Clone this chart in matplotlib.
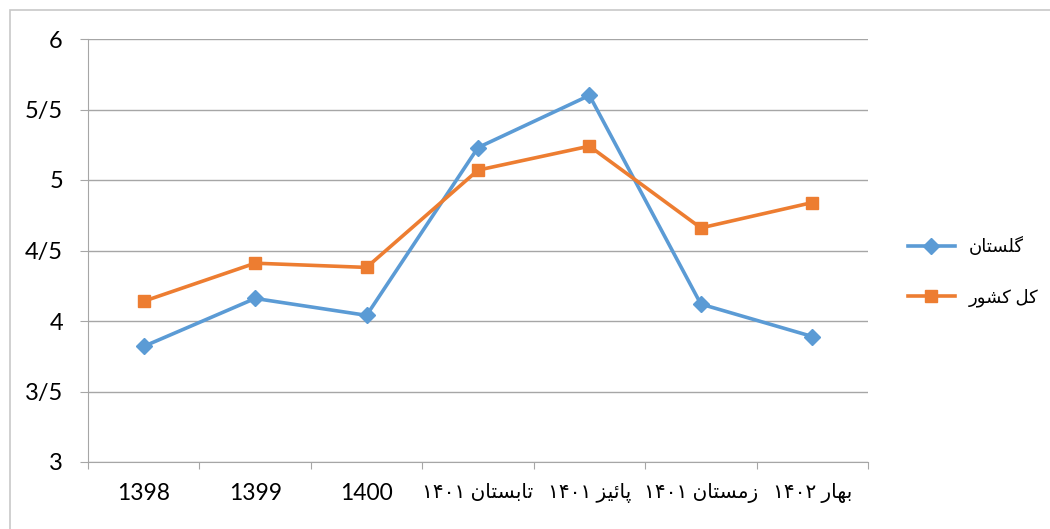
import numpy as np
import matplotlib
matplotlib.use("Agg")
import matplotlib.pyplot as plt
from matplotlib.patches import Rectangle

plt.rcParams['font.family'] = ['Lato', 'DejaVu Sans']

# data
categories = ['1398', '1399', '1400', 'تابستان ۱۴۰۱', 'پائیز ۱۴۰۱', 'زمستان ۱۴۰۱', 'بهار ۱۴۰۲']
golestan = [3.82, 4.16, 4.04, 5.23, 5.60, 4.12, 3.89]
kol_keshvar = [4.14, 4.41, 4.38, 5.07, 5.24, 4.66, 4.84]
series_names = ['گلستان', 'کل کشور']
ytick_values = [3, 3.5, 4, 4.5, 5, 5.5, 6]
ytick_labels = ['3', '3/5', '4', '4/5', '5', '5/5', '6']

# matplotlib does no arabic shaping, so pick presentation forms by hand
# (isolated, final, initial, medial)
forms = {
    'ا': ('\uFE8D', '\uFE8E', None, None),
    'ب': ('\uFE8F', '\uFE90', '\uFE91', '\uFE92'),
    'ت': ('\uFE95', '\uFE96', '\uFE97', '\uFE98'),
    'پ': ('\uFB56', '\uFB57', '\uFB58', '\uFB59'),
    'ئ': ('\uFE89', '\uFE8A', '\uFE8B', '\uFE8C'),
    'ی': ('\uFBFC', '\uFBFD', '\uFBFE', '\uFBFF'),
    'ز': ('\uFEAF', '\uFEB0', None, None),
    'م': ('\uFEE1', '\uFEE2', '\uFEE3', '\uFEE4'),
    'س': ('\uFEB1', '\uFEB2', '\uFEB3', '\uFEB4'),
    'ن': ('\uFEE5', '\uFEE6', '\uFEE7', '\uFEE8'),
    'ه': ('\uFEE9', '\uFEEA', '\uFEEB', '\uFEEC'),
    'ر': ('\uFEAD', '\uFEAE', None, None),
    'گ': ('\uFB92', '\uFB93', '\uFB94', '\uFB95'),
    'ل': ('\uFEDD', '\uFEDE', '\uFEDF', '\uFEE0'),
    'ک': ('\uFB8E', '\uFB8F', '\uFB90', '\uFB91'),
    'ش': ('\uFEB5', '\uFEB6', '\uFEB7', '\uFEB8'),
    'و': ('\uFEED', '\uFEEE', None, None),
}


def dual(c):
    return c in forms and forms[c][2] is not None


def shape_word(word):
    out = ''
    for i, c in enumerate(word):
        if c not in forms:
            out += c
            continue
        prev = word[i - 1] if i > 0 else ''
        nxt = word[i + 1] if i < len(word) - 1 else ''
        jp = dual(prev)
        jn = dual(c) and nxt in forms
        if jp and jn:
            out += forms[c][3]
        elif jn:
            out += forms[c][2]
        elif jp:
            out += forms[c][1]
        else:
            out += forms[c][0]
    return out


def rtl(text):
    tokens = text.split(' ')
    vis = []
    for tok in reversed(tokens):
        if any(c in forms for c in tok):
            vis.append(shape_word(tok)[::-1])
        else:
            vis.append(tok)
    return ' '.join(vis)


fig = plt.figure(figsize=(10.5, 5.29), dpi=100)
fig.patches.append(Rectangle((10 / 1050, -0.05), 1.0, (529 - 10) / 529 + 0.05,
                             transform=fig.transFigure, fill=False,
                             edgecolor='#c8c8c8', linewidth=1.2))
ax = fig.add_axes([88 / 1050, (529 - 462) / 529, (868 - 88) / 1050, (462 - 39) / 529])

x = np.arange(len(categories))
ax.plot(x, golestan, '-D', color='#5B9BD5', linewidth=2.6, markersize=8,
        label=rtl(series_names[0]))
ax.plot(x, kol_keshvar, '-s', color='#ED7D31', linewidth=2.6, markersize=9,
        label=rtl(series_names[1]))

ax.set_xlim(-0.5, len(categories) - 0.5)
ax.set_ylim(3, 6)
ax.set_yticks(ytick_values)
ax.set_yticklabels(ytick_labels)
ax.yaxis.grid(True, color='#a6a6a6', linewidth=1)
ax.set_axisbelow(True)

ax.set_xticks(np.arange(-0.5, len(categories)))
ax.set_xticklabels([])
ax.set_xticks(x, minor=True)
ax.set_xticklabels([rtl(c) for c in categories], minor=True)
ax.tick_params(axis='x', which='minor', length=0, pad=15)
ax.tick_params(axis='x', which='major', length=5, color='#a6a6a6')
ax.tick_params(axis='y', length=6, color='#a6a6a6', pad=12, labelsize=17)
for lbl, cat in zip(ax.get_xticklabels(minor=True), categories):
    lbl.set_fontsize(16.5 if cat.isdigit() else 14.5)

for s in ['top', 'right']:
    ax.spines[s].set_visible(False)
for s in ['left', 'bottom']:
    ax.spines[s].set_color('#a6a6a6')

ax.legend(loc='center left', bbox_to_anchor=(1.03, 0.45), frameon=False,
          fontsize=13, handlelength=2.6, labelspacing=1.85)

fig.savefig('out.png', dpi=100)
